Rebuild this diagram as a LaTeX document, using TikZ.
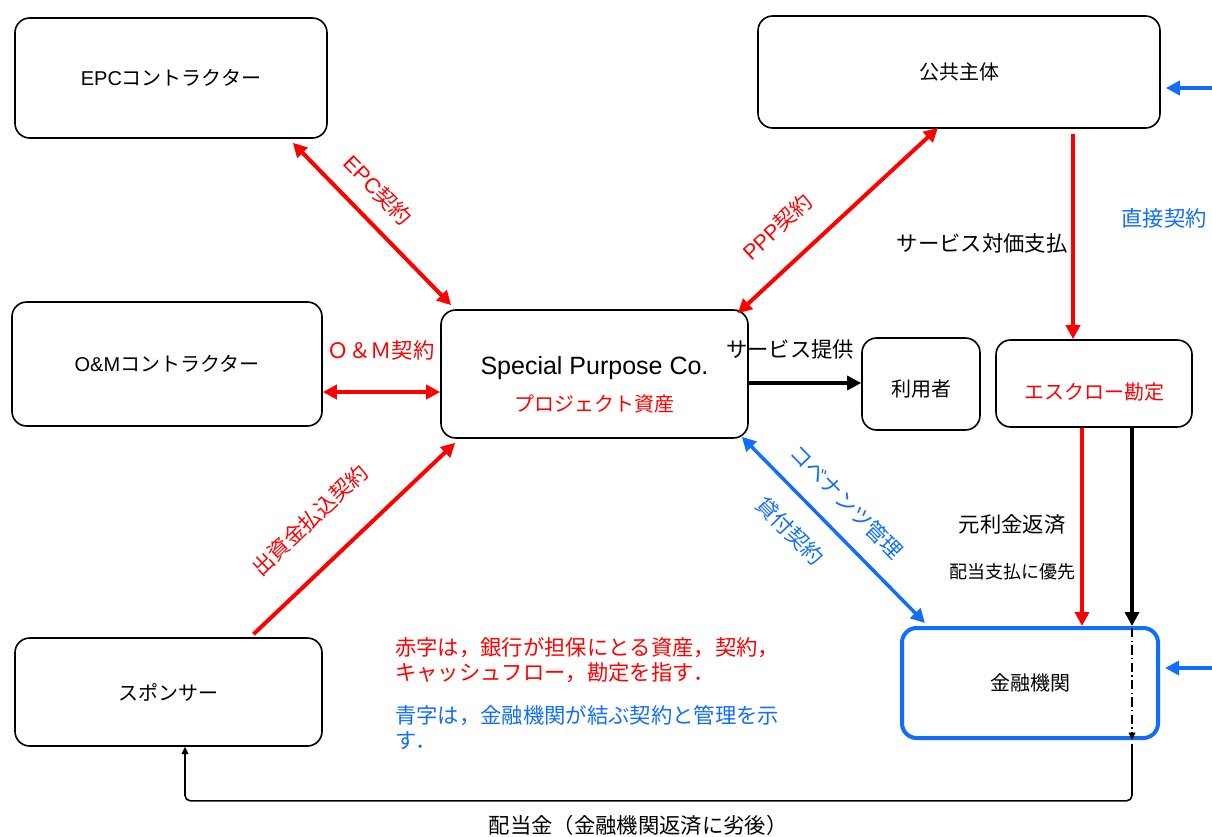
\documentclass[tikz,border=0pt]{standalone}
\usepackage{fontspec}
\setmainfont{Noto Sans CJK JP}
\newfontfamily\lat{Liberation Sans}
\usetikzlibrary{arrows.meta,calc}
\definecolor{jred}{RGB}{255,0,0}
\definecolor{jblue}{RGB}{16,110,250}
\tikzset{
  box/.style={draw=black, line width=1.2pt, rounded corners=11pt, fill=white,
    font=\fontsize{15pt}{18pt}\selectfont, inner sep=0pt},
  bankbox/.style={box, draw=jblue, line width=3pt},
  lbl/.style={font=\fontsize{16pt}{19pt}\selectfont, inner sep=0pt},
  smalllbl/.style={font=\fontsize{13.5pt}{16pt}\selectfont, inner sep=0pt},
  bigtip/.tip={Triangle[length=10.5pt,width=10.5pt]},
  smalltip/.tip={Triangle[length=5.5pt,width=5pt]},
  redline/.style={draw=jred, line width=3pt},
  blueline/.style={draw=jblue, line width=2.6pt},
  blackline/.style={draw=black, line width=2.4pt},
  thinline/.style={draw=black, line width=1.2pt},
}
\begin{document}
\begin{tikzpicture}[x=0.75pt,y=-0.75pt]
\useasboundingbox (0,0) rectangle (1212,836);

% boxes
\node[box, minimum width=234pt, minimum height=90pt] (epc) at (171,78) {{\lat EPC}コントラクター};
\node[box, minimum width=301.5pt, minimum height=84pt] (pub) at (959,72) {公共主体};
\node[box, minimum width=232.5pt, minimum height=93pt] (om) at (167,364) {{\lat O\&M}コントラクター};
\node[box, minimum width=230.25pt, minimum height=96pt] (spc) at (594.5,374)
  {\raisebox{-10pt}[\height][\depth]{\begin{tabular}{@{}c@{}}{\lat\fontsize{18.75pt}{22pt}\selectfont Special Purpose Co.}\\[10pt]{\color{jred}プロジェクト資産}\end{tabular}}};
\node[box, minimum width=88.5pt, minimum height=69pt] (user) at (921,384) {\raisebox{-4pt}[\height][\depth]{利用者}};
\node[box, minimum width=147pt, minimum height=65.25pt, text=jred] (esc) at (1094,383.5) {\raisebox{-6.4pt}[\height][\depth]{エスクロー勘定}};
\node[bankbox, minimum width=192pt, minimum height=82.5pt] (bank) at (1030,683) {金融機関};
\node[box, minimum width=230.25pt, minimum height=81pt] (sp) at (168.5,692) {スポンサー};

% free ends at the right edge
\coordinate (r1) at (1212,88);
\coordinate (r2) at (1212,668);

% EPC contract
\draw[redline, bigtip-bigtip] ($(epc.south east)+(-35,4)$) -- ($(spc.north west)+(11,-4)$);
\node[lbl, text=jred, rotate=-45.7] (lepc) at (378,190) {{\lat EPC}契約};

% PPP contract
\draw[redline, bigtip-bigtip] ($(pub.south)+(-21,-1)$) -- ($(spc.north east)+(-11,4)$);
\node[lbl, text=jred, rotate=42.9] (lppp) at (777,227) {{\lat PPP}契約};

% O&M contract
\draw[redline, bigtip-bigtip] ($(om.east)+(0,28)$) -- ($(spc.west)+(0,18)$);
\node[lbl, text=jred] (lom) at (381,350) {Ｏ＆Ｍ契約};

% equity contract
\draw[redline, -bigtip] ($(sp.north)+(85,-3)$) -- ($(spc.south west)+(15,4)$);
\node[lbl, text=jred, rotate=43.6] (leq) at (310,520) {出資金払込契約};

% loan contract
\draw[blueline, bigtip-bigtip] ($(spc.south east)+(-7,-2)$) -- ($(bank.north west)+(25,-3)$);
\node[lbl, text=jblue, rotate=-45.5] (lcov) at (847,502) {コベナンツ管理};
\node[lbl, text=jblue, rotate=-45.5] (lloan) at (790,531) {貸付契約};

% service provision
\draw[blackline, -bigtip] ($(spc.east)+(0,9)$) -- ($(user.west)+(0,-1)$);
\node[lbl] (lsvc) at (790,349) {サービス提供};

% service payment
\draw[redline, -bigtip] ($(pub.south)+(114,5)$) -- ($(esc.north)+(-21,0)$);
\node[lbl] (lpay) at (982,243) {サービス対価支払};

% direct contract
\draw[blueline, -bigtip] (r1) -- ($(pub.east)+(5,16)$);
\draw[blueline, -bigtip] (r2) -- ($(bank.east)+(5,-15)$);
\node[lbl, text=jblue] (ldir) at (1164,218) {直接契約};

% escrow to bank
\draw[redline, -bigtip] ($(esc.south)+(-12,0)$) -- ($(bank.north)+(52,0)$);
\draw[blackline, -bigtip] ($(esc.south)+(38,0)$) -- ($(bank.north)+(102,0)$);
\draw[draw=black, line width=1pt, dash pattern=on 7pt off 2.5pt on 1pt off 2.5pt, -smalltip] ($(bank.north)+(102,2)$) -- ($(bank.south)+(102,0)$);
\node[lbl] (lrep) at (1012,524) {元利金返済};
\node[smalllbl] (lprio) at (1012,572) {配当支払に優先};

% dividend return
\draw[thinline, rounded corners=4pt, -smalltip] ($(bank.south)+(102,4)$) |- ($(sp.south)+(16.5,54)$) -- ($(sp.south)+(16.5,0)$);
\node[lbl] (ldiv) at (638,825) {配当金（金融機関返済に劣後）};

% legend
\node[lbl, text=jred, anchor=west, align=left, font=\fontsize{16pt}{18.75pt}\selectfont] (legr) at (395,660.5)
  {赤字は，銀行が担保にとる資産，契約，\\キャッシュフロー，勘定を指す．};
\node[lbl, text=jblue, anchor=west, align=left, font=\fontsize{16pt}{18.75pt}\selectfont] (legb) at (395,727.5)
  {青字は，金融機関が結ぶ契約と管理を示\\す．};
\end{tikzpicture}
\end{document}
